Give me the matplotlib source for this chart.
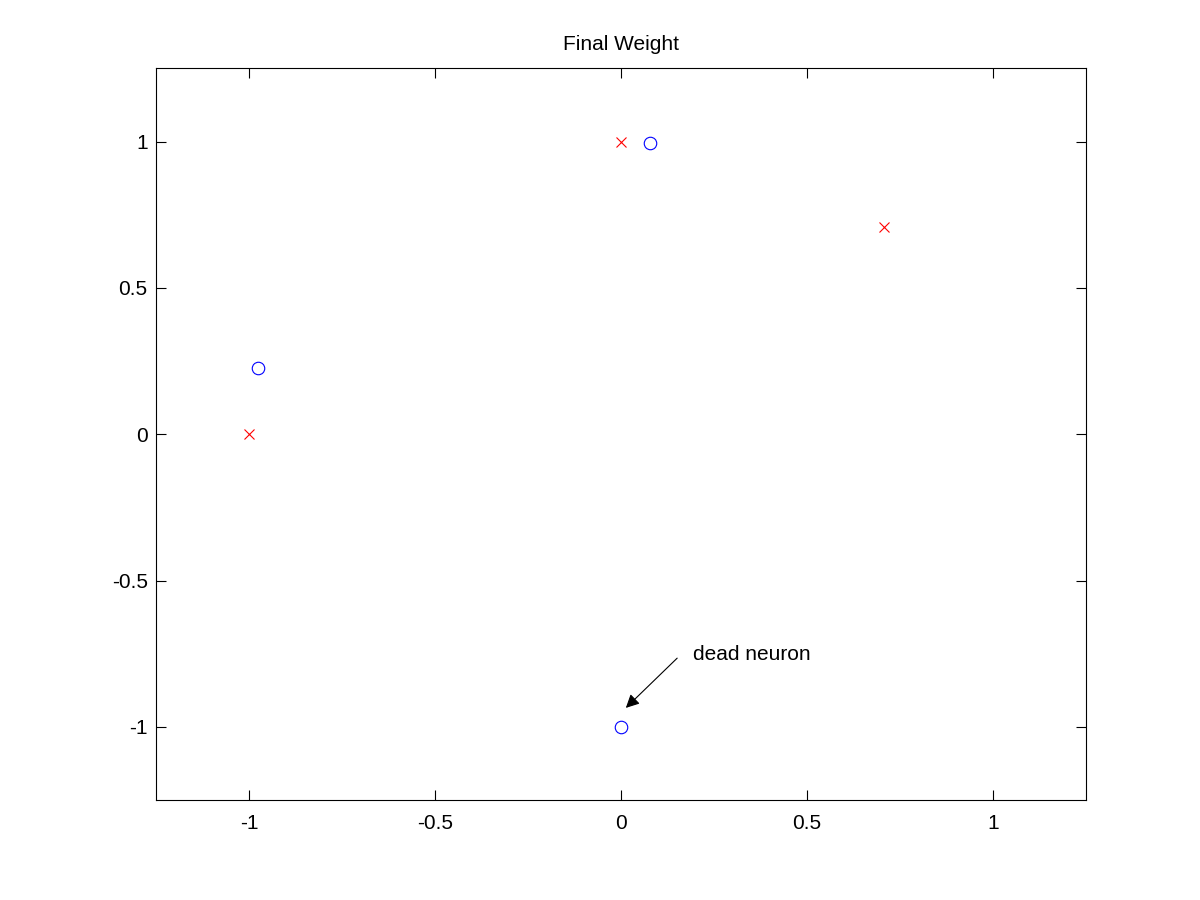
import matplotlib
matplotlib.use("Agg")
import matplotlib.pyplot as plt

plt.rcParams['font.family'] = ['Liberation Sans', 'DejaVu Sans']

# input patterns (red crosses)
inputX = [-1.0, 0.0, 0.7071]
inputY = [0.0, 1.0, 0.7071]

# final neuron weights (blue circles)
weightX = [-0.976, 0.078, 0.0]
weightY = [0.228, 0.995, -1.0]

fig = plt.figure(figsize=(12, 9), dpi=100)
ax = fig.add_axes([0.13, 0.111, 0.775, 0.813])

ax.plot(inputX, inputY, 'x', color='red', markersize=7, markeredgewidth=0.8)
ax.plot(weightX, weightY, 'o', color='blue', markerfacecolor='none',
        markersize=9, markeredgewidth=0.8)

# label and arrow drawn separately, like MATLAB's annotation
ax.text(0.194, -0.754, 'dead neuron', fontsize=15, va='center', ha='left')
ax.annotate('', xy=(0.013, -0.935), xytext=(0.151, -0.765),
            arrowprops=dict(arrowstyle='-|>', color='black', lw=0.8,
                            mutation_scale=20, shrinkA=0, shrinkB=0))

ax.set_xlim(-1.25, 1.25)
ax.set_ylim(-1.25, 1.25)
ax.set_xticks([-1, -0.5, 0, 0.5, 1])
ax.set_yticks([-1, -0.5, 0, 0.5, 1])
ax.set_xticklabels(['-1', '-0.5', '0', '0.5', '1'])
ax.set_yticklabels(['-1', '-0.5', '0', '0.5', '1'])
ax.tick_params(direction='in', top=True, right=True, length=7, width=0.8,
               labelsize=15)
ax.tick_params(axis='x', pad=10)
ax.tick_params(axis='y', pad=6)
for s in ax.spines.values():
    s.set_linewidth(0.8)

ax.set_title('Final Weight', fontsize=15, pad=13)

fig.savefig('out.png', dpi=100)
